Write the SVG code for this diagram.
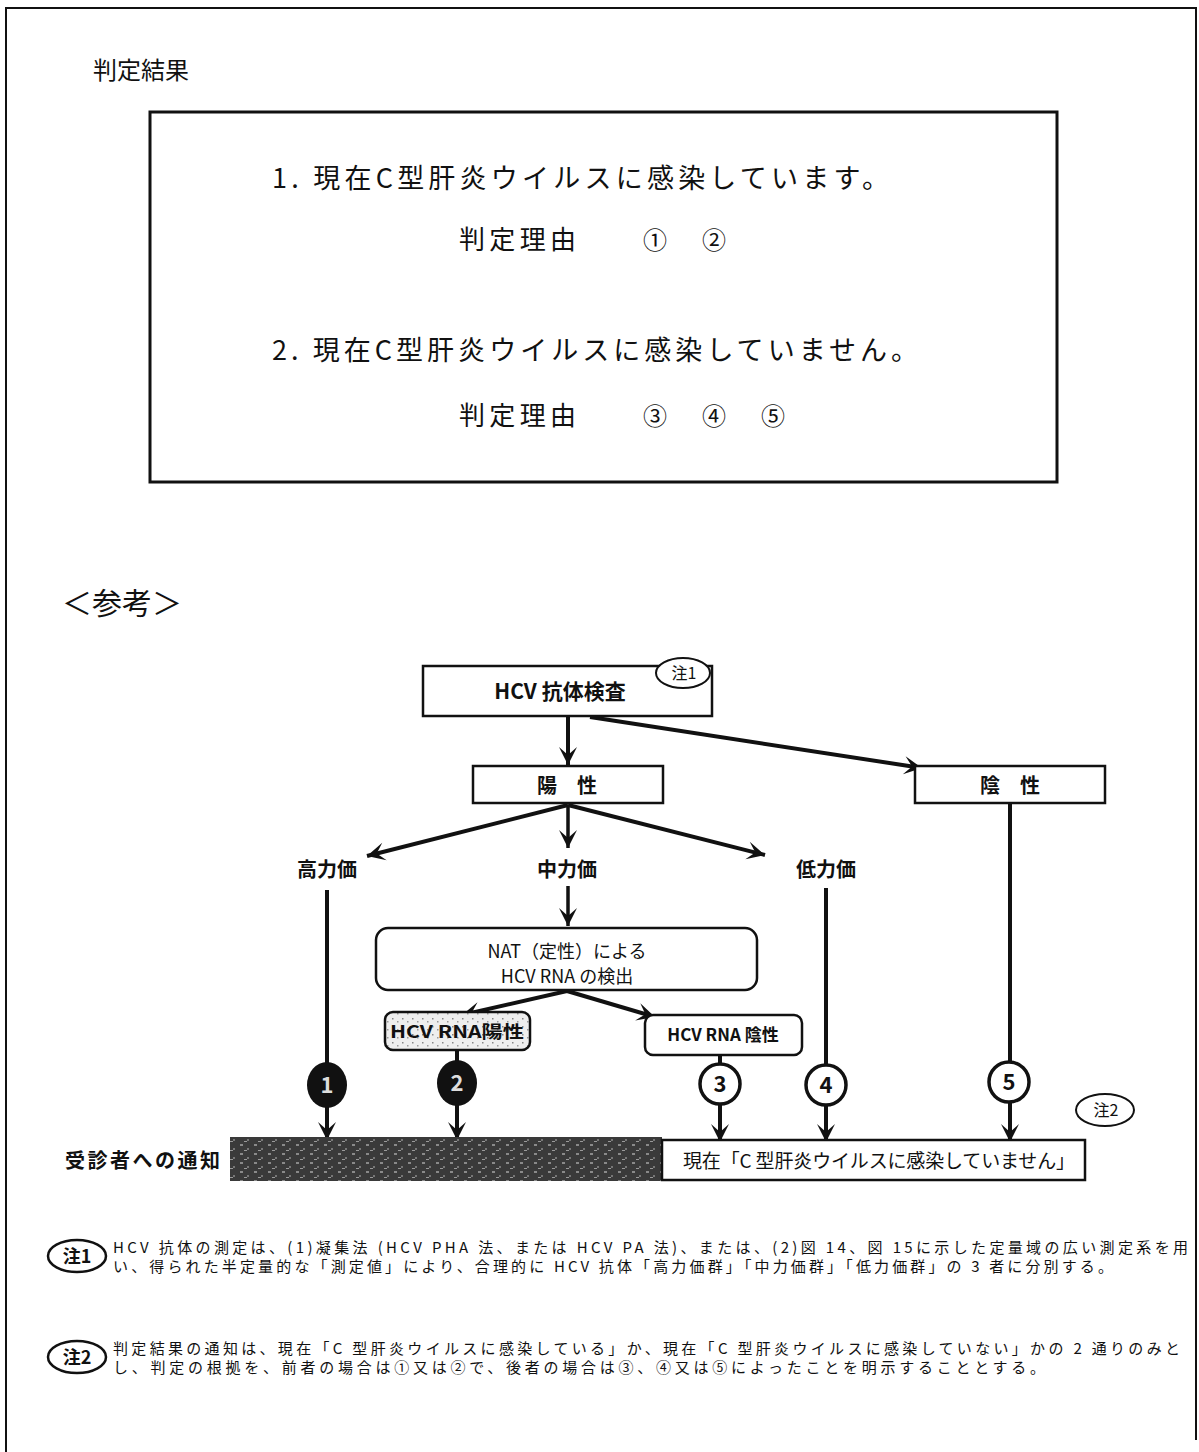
<svg xmlns="http://www.w3.org/2000/svg" width="1199" height="1452" viewBox="0 0 1199 1452">
<style>
text{font-family:"Noto Sans CJK JP","Noto Sans",sans-serif;fill:#111}
.b{font-weight:bold}
.box{fill:#fff;stroke:#111;stroke-width:2.5}
.ln{stroke:#111;stroke-width:4;fill:none}
.ln3{stroke:#111;stroke-width:3.5;fill:none}
.mid{text-anchor:middle}
.fn{font-size:15px}
</style>
<defs>
<marker id="ah" viewBox="-20 -10 22 20" refX="0" refY="0" markerWidth="22" markerHeight="20" markerUnits="userSpaceOnUse" orient="auto">
<path d="M0,0 L-18,-9 L-10,0 L-18,9 Z" fill="#111"/>
</marker>
<pattern id="tex" width="14" height="9" patternUnits="userSpaceOnUse">
<rect width="14" height="9" fill="#3a3a3a"/>
<rect x="2" y="1" width="3" height="2" fill="#8a8a8a"/>
<rect x="9" y="5" width="2" height="2" fill="#777"/>
<rect x="6" y="7" width="3" height="1" fill="#999"/>
</pattern>
<pattern id="tex2" width="10" height="8" patternUnits="userSpaceOnUse">
<rect width="10" height="8" fill="#eeeeee"/>
<rect x="2" y="2" width="1.5" height="1.5" fill="#888"/>
<rect x="7" y="5" width="1.5" height="1.5" fill="#999"/>
</pattern>
</defs>

<g id="frame">
<path d="M6,1452 L6,8 L1196,8 L1196,1440" fill="none" stroke="#111" stroke-width="2"/>
</g>

<g id="result">
<text x="93" y="79" font-size="24">判定結果</text>
<rect x="150" y="112" width="907" height="370" fill="none" stroke="#111" stroke-width="3"/>
<text x="272" y="188" font-size="27" textLength="617" lengthAdjust="spacing">1.  現在C型肝炎ウイルスに感染しています。</text>
<text x="459" y="249" font-size="26" textLength="117" lengthAdjust="spacing">判定理由</text>
<text x="655" y="249" font-size="24" class="mid">①</text>
<text x="714" y="249" font-size="24" class="mid">②</text>
<text x="272" y="360" font-size="27" textLength="646" lengthAdjust="spacing">2.  現在C型肝炎ウイルスに感染していません。</text>
<text x="459" y="425" font-size="26" textLength="117" lengthAdjust="spacing">判定理由</text>
<text x="655" y="425" font-size="24" class="mid">③</text>
<text x="714" y="425" font-size="24" class="mid">④</text>
<text x="773" y="425" font-size="24" class="mid">⑤</text>
</g>

<g id="ref-title">
<text x="62" y="614" font-size="30">＜参考＞</text>
</g>

<g id="connectors">
<line class="ln" x1="568" y1="716" x2="568" y2="765" marker-end="url(#ah)"/>
<line class="ln" x1="590" y1="717" x2="922" y2="768" marker-end="url(#ah)"/>
<line class="ln" x1="568" y1="805" x2="367" y2="856" marker-end="url(#ah)"/>
<line class="ln3" x1="568" y1="805" x2="568" y2="848" marker-end="url(#ah)"/>
<line class="ln" x1="568" y1="805" x2="765" y2="855" marker-end="url(#ah)"/>
<line class="ln3" x1="568" y1="886" x2="568" y2="926" marker-end="url(#ah)"/>
<line class="ln" x1="567" y1="991" x2="462" y2="1015" marker-end="url(#ah)"/>
<line class="ln" x1="567" y1="991" x2="655" y2="1017" marker-end="url(#ah)"/>
<line class="ln" x1="327" y1="890" x2="327" y2="1140" marker-end="url(#ah)"/>
<line class="ln" x1="457" y1="1050" x2="457" y2="1140" marker-end="url(#ah)"/>
<line class="ln" x1="720" y1="1055" x2="720" y2="1142" marker-end="url(#ah)"/>
<line class="ln" x1="826" y1="888" x2="826" y2="1142" marker-end="url(#ah)"/>
<line class="ln" x1="1010" y1="803" x2="1010" y2="1142" marker-end="url(#ah)"/>
</g>

<g id="node-hcv">
<rect class="box" x="423" y="666" width="289" height="50"/>
<text x="560" y="699" font-size="21" class="b mid">HCV 抗体検査</text>
<ellipse cx="683" cy="673" rx="27" ry="15" fill="#fff" stroke="#111" stroke-width="2"/>
<text x="684" y="679" font-size="16" class="mid">注1</text>
</g>

<g id="node-pos">
<rect class="box" x="473" y="766" width="190" height="37"/>
<text x="567" y="793" font-size="20" class="b mid">陽　性</text>
</g>

<g id="node-neg">
<rect class="box" x="915" y="766" width="190" height="37"/>
<text x="1010" y="793" font-size="20" class="b mid">陰　性</text>
</g>

<g id="node-high"><text x="327" y="877" font-size="20" class="b mid">高力価</text></g>
<g id="node-mid"><text x="567" y="877" font-size="20" class="b mid">中力価</text></g>
<g id="node-low"><text x="826" y="877" font-size="20" class="b mid">低力価</text></g>

<g id="node-nat">
<rect class="box" x="376" y="928" width="381" height="62" rx="12"/>
<text x="567" y="958" font-size="18" class="mid">NAT（定性）による</text>
<text x="567" y="983" font-size="18" class="mid">HCV RNA の検出</text>
</g>

<g id="node-rna-pos">
<rect x="385" y="1012" width="145" height="38" rx="8" fill="url(#tex2)" stroke="#111" stroke-width="2.5"/>
<text x="457" y="1038" font-size="17" class="b mid" textLength="134" lengthAdjust="spacingAndGlyphs">HCV RNA陽性</text>
</g>

<g id="node-rna-neg">
<rect class="box" x="645" y="1015" width="157" height="40" rx="8"/>
<text x="723" y="1041" font-size="17" class="b mid">HCV RNA 陰性</text>
</g>

<g id="c1"><ellipse cx="327" cy="1085" rx="20" ry="23" fill="#111"/><text x="327" y="1093" font-size="22" class="b mid" style="fill:#ddd">1</text></g>
<g id="c2"><ellipse cx="457" cy="1083" rx="20" ry="23" fill="#111"/><text x="457" y="1091" font-size="22" class="b mid" style="fill:#ddd">2</text></g>
<g id="c3"><circle cx="720" cy="1084" r="20" fill="#fff" stroke="#111" stroke-width="3.5"/><text x="720" y="1092" font-size="22" class="b mid">3</text></g>
<g id="c4"><circle cx="826" cy="1085" r="20" fill="#fff" stroke="#111" stroke-width="3.5"/><text x="826" y="1093" font-size="22" class="b mid">4</text></g>
<g id="c5"><circle cx="1009" cy="1082" r="20" fill="#fff" stroke="#111" stroke-width="3.5"/><text x="1009" y="1090" font-size="22" class="b mid">5</text></g>

<g id="notify">
<text x="65" y="1168" font-size="20" class="b" textLength="155" lengthAdjust="spacing">受診者への通知</text>
<rect x="230" y="1137" width="432" height="44" fill="url(#tex)"/>
<rect x="662" y="1140" width="423" height="40" fill="#fff" stroke="#111" stroke-width="2.5"/>
<text x="683" y="1168" font-size="19" textLength="392" lengthAdjust="spacing">現在「C 型肝炎ウイルスに感染していません」</text>
<ellipse cx="1105" cy="1110" rx="29" ry="16" fill="#fff" stroke="#111" stroke-width="2"/>
<text x="1106" y="1116" font-size="16" class="mid">注2</text>
</g>

<g id="note1">
<ellipse cx="77" cy="1256" rx="29" ry="16" fill="#fff" stroke="#111" stroke-width="2.5"/>
<text x="77" y="1263" font-size="18" class="b mid">注1</text>
<text x="113" y="1253" class="fn" textLength="1075" lengthAdjust="spacing">HCV 抗体の測定は、(1)凝集法 (HCV PHA 法、または HCV PA 法)、または、(2)図 14、図 15に示した定量域の広い測定系を用</text>
<text x="113" y="1272" class="fn" textLength="1000" lengthAdjust="spacing">い、得られた半定量的な「測定値」により、合理的に HCV 抗体「高力価群」「中力価群」「低力価群」の 3 者に分別する。</text>
</g>

<g id="note2">
<ellipse cx="77" cy="1357" rx="29" ry="16" fill="#fff" stroke="#111" stroke-width="2.5"/>
<text x="77" y="1364" font-size="18" class="b mid">注2</text>
<text x="113" y="1354" class="fn" textLength="1067" lengthAdjust="spacing">判定結果の通知は、現在「C 型肝炎ウイルスに感染している」か、現在「C 型肝炎ウイルスに感染していない」かの 2 通りのみと</text>
<text x="113" y="1373" class="fn" textLength="932" lengthAdjust="spacing">し、判定の根拠を、前者の場合は①又は②で、後者の場合は③、④又は⑤によったことを明示することとする。</text>
</g>
</svg>
